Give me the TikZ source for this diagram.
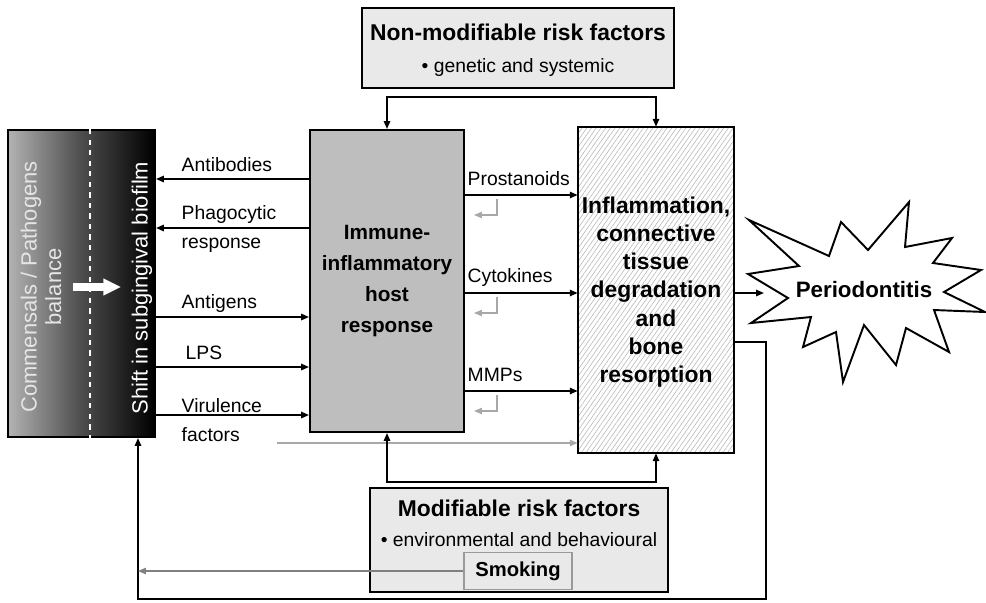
\documentclass[tikz,border=0pt]{standalone}
\usepackage{fontspec}
\setmainfont{Liberation Sans}
\usetikzlibrary{arrows.meta,positioning,calc,patterns.meta}
\definecolor{hostgray}{RGB}{190,190,190}
\definecolor{riskgray}{RGB}{233,233,233}
\definecolor{softgray}{RGB}{168,168,168}
\newcommand{\tagfont}{\fontsize{11}{16.4}\selectfont}
\newcommand{\hostfont}{\fontsize{11.8}{17.6}\selectfont\bfseries}
\newcommand{\tissuefont}{\fontsize{13}{16}\selectfont\bfseries}
\newcommand{\riskfont}{\fontsize{13}{14}\selectfont\bfseries}

\begin{document}
\begin{tikzpicture}[x=0.2mm, y=-0.2mm, line width=1pt,
    >={Triangle[length=4.5pt,width=3.6pt]}]
    \useasboundingbox (0,0) rectangle (986,602);
    % subgingival biofilm
    \node[draw, line width=1.1pt, minimum width=29.4mm, minimum height=61.4mm,
      left color=black!30, right color=black, middle color=black!70] (bio) at (81.5,283.5) {};
    \draw[white, dashed, line width=0.6pt] (bio.north -| 90,0) -- (bio.south -| 90,0);
    \node[rotate=90, align=center, text=black!10, font=\fontsize{12.5}{14}\selectfont] (balance) at (41,287) {Commensals / Pathogens\\balance};
    \node[rotate=90, text=white, font=\fontsize{12.5}{14}\selectfont] (shift) at (142,288) {Shift in subgingival biofilm};
    \draw[white, line width=4pt, -{Triangle[length=10pt,width=9pt]}] (73,287) -- (121,287);
    % host response and tissue
    \node[draw, line width=1.1pt, fill=hostgray, minimum width=30.8mm, minimum height=60.4mm,
      align=center, font=\hostfont] (host) at (387,281) {Immune-\\inflammatory\\host\\response};
    \node[draw, line width=1.1pt, minimum width=31.2mm, minimum height=65.2mm,
      pattern={Lines[angle=55,distance=2.2pt,line width=0.35pt]}, pattern color=black!27] (tissuebox) at (656,290) {};
    \node[align=center, font=\tissuefont] (tissue) at (656,292) {Inflammation,\\connective\\tissue\\degradation\\and\\bone\\resorption};
    % risk factors
    \node[draw, line width=1.1pt, fill=riskgray, minimum width=62.4mm, minimum height=16mm] (fixrisk) at (518,48) {};
    \node[align=center, font=\fontsize{11}{14}\selectfont] (fixtext) at (518,50)
      {{\riskfont Non-modifiable risk factors}\\[4pt]\textbullet\ genetic and systemic};
    \node[draw, line width=1.1pt, fill=riskgray, minimum width=59.6mm, minimum height=20.8mm] (modrisk) at (519,540) {};
    \node[align=center, font=\fontsize{11}{14}\selectfont] (modtext) at (519,523)
      {{\riskfont Modifiable risk factors}\\[3pt]\textbullet\ environmental and behavioural};
    \node[draw=black!40, line width=0.8pt, fill=riskgray, minimum width=21.6mm, minimum height=7.4mm,
      font=\fontsize{11.5}{14}\selectfont\bfseries] (smoking) at (518,571) {Smoking};
    % periodontitis
    \draw[line width=1.1pt, fill=white] (749,220) -- (829,256) -- (841,222) -- (868,250) -- (909,202)
      -- (905,247) -- (952,238) -- (933,263) -- (981,270) -- (944,292) -- (985,312) -- (934,310)
      -- (949,352) -- (906,328) -- (896,365) -- (864,325) -- (843,382) -- (836,332) -- (803,347)
      -- (811,317) -- (751,323) -- (788,298) -- (748,274) -- (799,266) -- cycle;
    \node[font=\fontsize{12.7}{14}\selectfont\bfseries] (perio) at (864,290) {Periodontitis};
    \coordinate (hit) at (764,293);

    % bacterial side
    \draw[->] (host.west |- 0,179) -- (bio.east |- 0,179);
    \draw[->] (host.west |- 0,228) -- (bio.east |- 0,228);
    \draw[->] (bio.east |- 0,317) -- (host.west |- 0,317);
    \draw[->] (bio.east |- 0,367) -- (host.west |- 0,367);
    \draw[->] (bio.east |- 0,415) -- (host.west |- 0,415);
    \node[anchor=west, font=\tagfont] (antibodies) at (175,165) {Antibodies};
    \node[anchor=west, align=left, font=\tagfont] (phago) at (175,229) {Phagocytic\\response};
    \node[anchor=west, font=\tagfont] (antigens) at (175,303) {Antigens};
    \node[anchor=west, font=\tagfont] (lps) at (179,353) {LPS};
    \node[anchor=west, align=left, font=\tagfont] (virulence) at (175,420) {Virulence\\factors};

    % mediators
    \draw[->] (host.east |- 0,195) -- (tissuebox.west |- 0,195);
    \draw[->] (host.east |- 0,293) -- (tissuebox.west |- 0,293);
    \draw[->] (host.east |- 0,391) -- (tissuebox.west |- 0,391);
    \node[anchor=west, font=\tagfont] (prostanoids) at (461,179) {Prostanoids};
    \node[anchor=west, font=\tagfont] (cytokines) at (461,277) {Cytokines};
    \node[anchor=west, font=\tagfont] (mmps) at (461,375) {MMPs};
    \foreach \y in {195,293,391}
      \draw[softgray, line width=0.6pt, ->] (497,\y+4) -- (497,\y+20) -- (474,\y+20);
    \coordinate (vir) at (277,443);
    \draw[softgray, line width=0.8pt, ->] (vir) -- (tissuebox.west |- vir);

    % risk factor buses
    \coordinate (fixbus) at (518,97);
    \draw[<->] (host.north) -- (host.north |- fixbus) -- (tissuebox.north |- fixbus) -- (tissuebox.north);
    \coordinate (modbus) at (519,482);
    \draw[<->] (host.south) -- (host.south |- modbus) -- (tissuebox.south |- modbus) -- (tissuebox.south);

    % outcome and feedback
    \draw[->] (tissuebox.east |- hit) -- (hit);
    \coordinate (fbR) at (766,599);
    \coordinate (fbL) at (138,599);
    \draw[->] (tissuebox.east |- 0,342) -| (fbR) -- (fbL) -- (fbL |- bio.south);
    \draw[black!50, line width=0.8pt, ->] (smoking.west) -- (smoking.west -| fbL);
\end{tikzpicture}
\end{document}
